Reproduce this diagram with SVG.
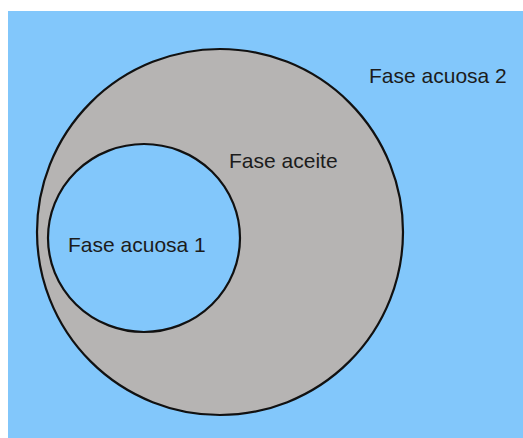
<svg xmlns="http://www.w3.org/2000/svg" width="523" height="438" viewBox="0 0 523 438">
<style>
.lbl{font-family:"Liberation Sans",Arial,sans-serif;font-size:21px;fill:#1c1c1c}
.ring{stroke:#111;stroke-width:2.2}
</style>
<rect x="0" y="0" width="523" height="438" fill="#ffffff"/>
<rect id="bg" x="8" y="11" width="515" height="427" fill="#82c7fb"/>
<g id="fase-aceite">
<circle class="ring" cx="220" cy="232" r="183" fill="#b6b4b3"/>
<text class="lbl" x="229" y="168">Fase aceite</text>
</g>
<g id="fase-acuosa-1">
<ellipse class="ring" cx="144" cy="238" rx="96" ry="94" fill="#82c7fb"/>
<text class="lbl" x="68" y="252">Fase acuosa 1</text>
</g>
<g id="fase-acuosa-2">
<text class="lbl" x="369" y="83">Fase acuosa 2</text>
</g>
<g id="connectors"/>
</svg>
